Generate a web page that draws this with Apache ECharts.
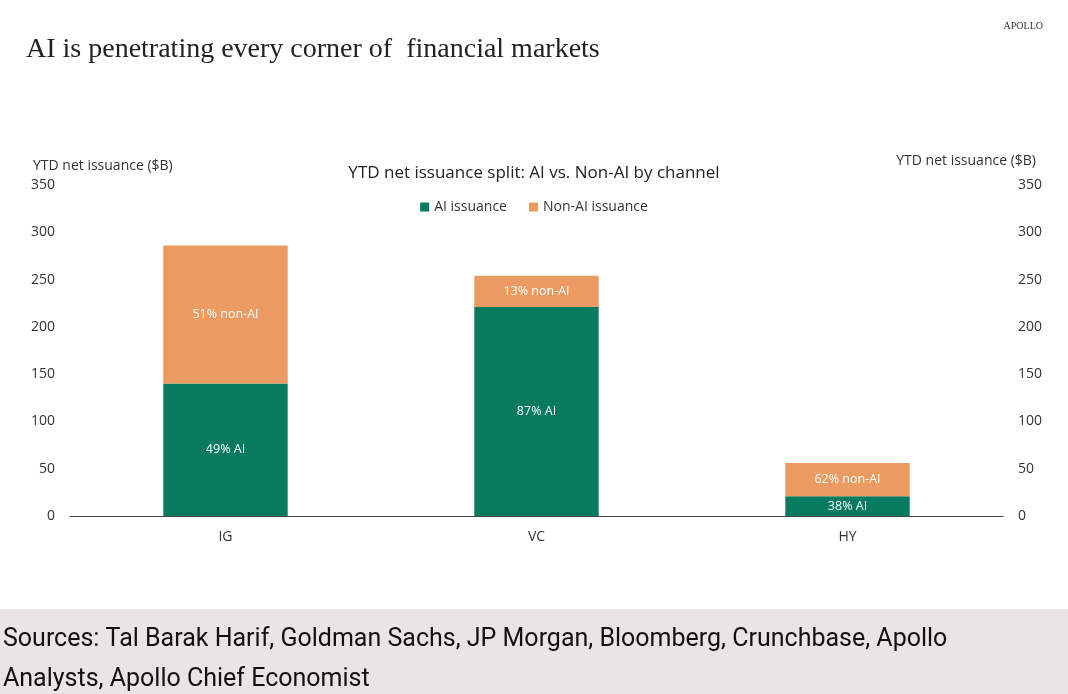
<!DOCTYPE html>
<html>
<head>
<meta charset="utf-8">
<script src="https://cdn.jsdelivr.net/npm/echarts@6/dist/echarts.min.js"></script>
<style>
  html, body { margin: 0; padding: 0; background: #fff; }
  #chart { width: 1068px; height: 694px; }
</style>
</head>
<body>
<div id="chart"></div>
<script>
// data
var categories = ['IG', 'VC', 'HY'];
var aiValues = [140, 221, 21];
var nonAiValues = [146, 33, 35];
var aiLabels = ['49% AI', '87% AI', '38% AI'];
var nonAiLabels = ['51% non-AI', '13% non-AI', '62% non-AI'];
var yTicks = [0, 50, 100, 150, 200, 250, 300, 350];

var sans = '"Open Sans", "Noto Sans", sans-serif';
var green = '#077a5f';
var orange = '#eb9a62';

var myChart = echarts.init(document.getElementById('chart'));

var option = {
  backgroundColor: '#fff',
  textStyle: { fontFamily: sans },
  title: [
    {
      text: 'AI is penetrating every corner of  financial markets',
      left: 21, top: 31,
      textStyle: { fontFamily: '"Liberation Serif", "DejaVu Serif", serif', fontWeight: 'normal', fontSize: 28, color: '#222' }
    },
    {
      text: 'APOLLO',
      right: 20, top: 16,
      textStyle: { fontFamily: '"Liberation Serif", serif', fontWeight: 'normal', fontSize: 10, color: '#333', letterSpacing: 1 }
    },
    {
      text: 'YTD net issuance split: AI vs. Non-AI by channel',
      left: 'center', top: 160,
      textStyle: { fontFamily: sans, fontWeight: 'normal', fontSize: 17, color: '#222' }
    }
  ],
  legend: {
    top: 195, left: 'center',
    icon: 'rect', itemWidth: 9, itemHeight: 9, itemGap: 22,
    textStyle: { fontSize: 14, color: '#333' },
    data: ['AI issuance', 'Non-AI issuance']
  },
  grid: { left: 70, right: 65, top: 185, bottom: 178 },
  xAxis: {
    type: 'category',
    data: categories,
    axisLine: { lineStyle: { color: '#444', width: 1.2 } },
    axisTick: { show: false },
    axisLabel: { color: '#333', fontSize: 14, margin: 14 }
  },
  yAxis: [
    {
      type: 'value', min: yTicks[0], max: yTicks[yTicks.length - 1], interval: 50,
      splitLine: { show: false },
      axisLine: { show: false }, axisTick: { show: false },
      axisLabel: { color: '#333', fontSize: 14, margin: 15 }
    },
    {
      type: 'value', min: yTicks[0], max: yTicks[yTicks.length - 1], interval: 50,
      position: 'right',
      splitLine: { show: false },
      axisLine: { show: false }, axisTick: { show: false },
      axisLabel: { color: '#333', fontSize: 14, margin: 15 }
    }
  ],
  graphic: [
    {
      type: 'text', left: 33, top: 159,
      style: { text: 'YTD net issuance ($B)', fontFamily: sans, fontSize: 14, fill: '#333' }
    },
    {
      type: 'text', right: 32, top: 154,
      style: { text: 'YTD net issuance ($B)', fontFamily: sans, fontSize: 14, fill: '#333' }
    },
    {
      type: 'rect', left: 0, top: 609,
      shape: { width: 1068, height: 85 },
      style: { fill: '#e8e5e2' }
    },
    {
      type: 'text', left: 3, top: 620,
      style: {
        text: 'Sources: Tal Barak Harif, Goldman Sachs, JP Morgan, Bloomberg, Crunchbase, Apollo\nAnalysts, Apollo Chief Economist',
        fontFamily: '"Roboto", "Liberation Sans", sans-serif', fontSize: 25, lineHeight: 40, fill: '#111'
      }
    }
  ],
  series: [
    {
      name: 'AI issuance',
      type: 'bar', stack: 'total', barWidth: '40%',
      itemStyle: { color: green },
      label: {
        show: true, position: 'inside', color: '#fff', fontSize: 12.5,
        formatter: function (p) { return aiLabels[p.dataIndex]; }
      },
      data: aiValues
    },
    {
      name: 'Non-AI issuance',
      type: 'bar', stack: 'total', barWidth: '40%',
      itemStyle: { color: orange },
      label: {
        show: true, position: 'inside', color: '#fff', fontSize: 12.5,
        formatter: function (p) { return nonAiLabels[p.dataIndex]; }
      },
      data: nonAiValues
    }
  ]
};

myChart.setOption(option);
</script>
</body>
</html>
